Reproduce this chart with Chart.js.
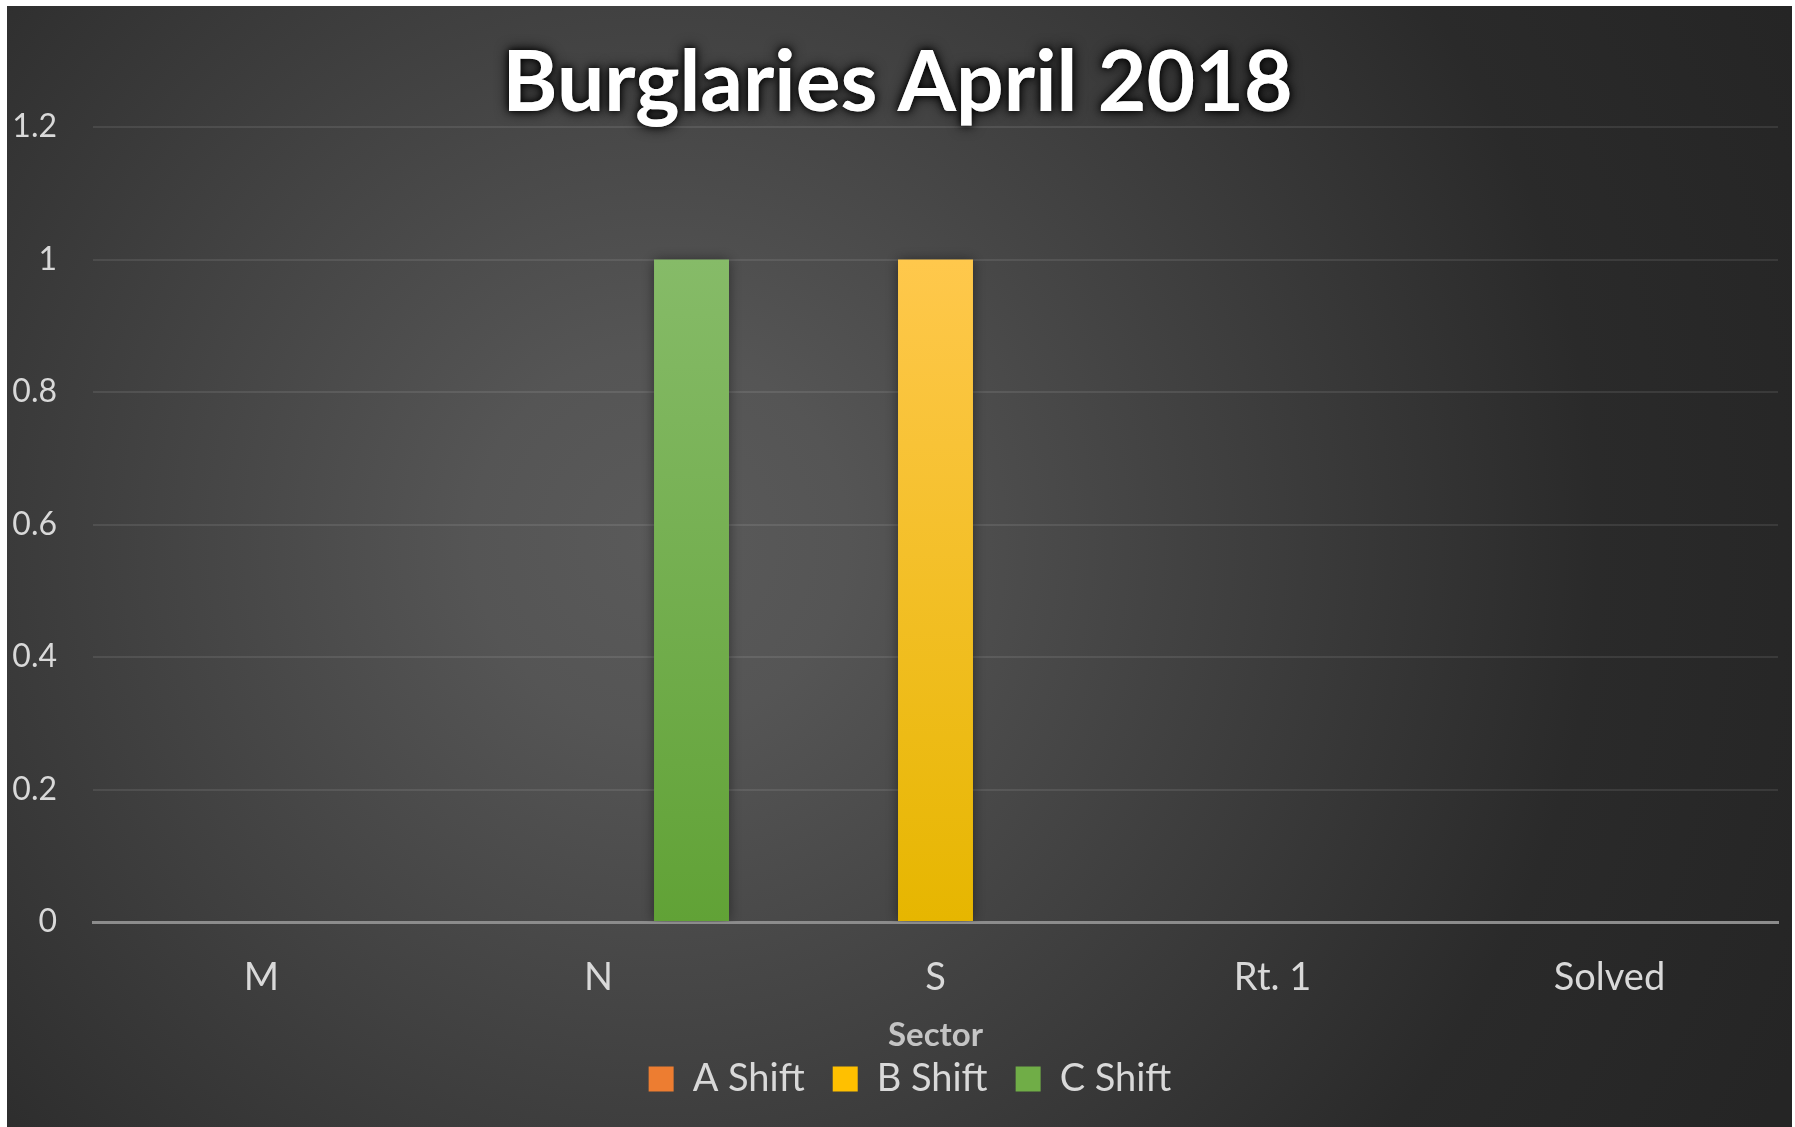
<!DOCTYPE html>
<html>
<head>
<meta charset="utf-8">
<title>Burglaries April 2018</title>
<script src="https://cdn.jsdelivr.net/npm/chart.js@4.4.1/dist/chart.umd.min.js"></script>
<style>
  html, body { margin: 0; padding: 0; background: #fff; }
  #wrap { position: absolute; left: 0; top: 0; width: 1795px; height: 1127px; }
</style>
</head>
<body>
<div id="wrap"><canvas id="chart"></canvas></div>
<script>
// data
const chartTitle = 'Burglaries April 2018';
const sectors = ['M', 'N', 'S', 'Rt. 1', 'Solved'];
const aShift = [0, 0, 0, 0, 0];
const bShift = [0, 0, 1, 0, 0];
const cShift = [0, 1, 0, 0, 0];
const yMax = 1.2;
const yStep = 0.2;

// colours (top of bar, bottom of bar, legend swatch)
const orange = ['#f3925a', '#e46c1c', '#ed7d31'];
const yellow = ['#ffc84c', '#e6b600', '#ffc000'];
const green = ['#86bb68', '#61a236', '#70ad47'];

function barFill(cols) {
  return (c) => {
    const chart = c.chart;
    if (!chart.chartArea || c.parsed == null) return cols[2];
    const y = chart.scales.y;
    const top = y.getPixelForValue(c.parsed.y);
    const bottom = y.getPixelForValue(0);
    if (bottom - top < 1) return cols[2];
    const g = chart.ctx.createLinearGradient(0, top, 0, bottom);
    g.addColorStop(0, cols[0]);
    g.addColorStop(1, cols[1]);
    return g;
  };
}

// dark radial background, title with glow, shadow under bars
const backdrop = {
  id: 'backdrop',
  afterLayout(chart) {
    // legend sits a little right of the canvas centre in the original
    if (chart.legend) {
      chart.legend.left += 21;
      chart.legend.right += 21;
    }
  },
  beforeDraw(chart) {
    const ctx = chart.ctx;
    const g = ctx.createRadialGradient(660, 540, 0, 660, 540, 1250);
    g.addColorStop(0, '#5a5a5a');
    g.addColorStop(0.15, '#555555');
    g.addColorStop(0.75, '#2a2a2a');
    g.addColorStop(1, '#252525');
    ctx.save();
    ctx.fillStyle = g;
    ctx.fillRect(7, 6, chart.width - 10, chart.height - 6);
    ctx.restore();
  },
  beforeDatasetsDraw(chart) {
    const ctx = chart.ctx;
    ctx.save();
    ctx.shadowColor = 'rgba(0,0,0,0.45)';
    ctx.shadowBlur = 12;
  },
  afterDatasetsDraw(chart) {
    chart.ctx.restore();
  },
  afterDraw(chart) {
    const ctx = chart.ctx;
    ctx.save();
    ctx.font = 'bold 84px Lato';
    ctx.textAlign = 'center';
    ctx.textBaseline = 'alphabetic';
    ctx.fillStyle = '#ffffff';
    ctx.shadowColor = 'rgba(0,0,0,0.95)';
    ctx.shadowBlur = 14;
    ctx.fillText(chartTitle, chart.width / 2, 111);
    ctx.shadowBlur = 6;
    ctx.fillText(chartTitle, chart.width / 2, 111);
    ctx.restore();
  }
};

const ctx = document.getElementById('chart').getContext('2d');
new Chart(ctx, {
  type: 'bar',
  data: {
    labels: sectors,
    datasets: [
      { label: 'A Shift', data: aShift, backgroundColor: barFill(orange) },
      { label: 'B Shift', data: bShift, backgroundColor: barFill(yellow) },
      { label: 'C Shift', data: cShift, backgroundColor: barFill(green) }
    ]
  },
  options: {
    responsive: true,
    maintainAspectRatio: false,
    animation: false,
    categoryPercentage: 0.828,
    barPercentage: 0.806,
    layout: { padding: { top: 127, right: 17, bottom: 19, left: 0 } },
    plugins: {
      title: { display: false },
      tooltip: { enabled: false },
      legend: {
        position: 'bottom',
        labels: {
          color: '#d9d9d9',
          font: { family: 'Lato', size: 38 },
          boxWidth: 25,
          boxHeight: 25,
          padding: 28,
          generateLabels(chart) {
            const cols = [orange, yellow, green];
            return Chart.defaults.plugins.legend.labels.generateLabels(chart).map((l, i) => {
              l.fillStyle = cols[i][2];
              l.strokeStyle = cols[i][2];
              l.lineWidth = 0;
              return l;
            });
          }
        }
      }
    },
    scales: {
      x: {
        grid: { display: false, drawTicks: false },
        border: { display: true, color: '#8c8c8c', width: 3 },
        ticks: { color: '#d9d9d9', font: { family: 'Lato', size: 38 }, padding: 33 },
        title: {
          display: true,
          text: 'Sector',
          color: '#c4c4c4',
          font: { family: 'Lato', size: 33, weight: 'bold' },
          padding: { top: 0, bottom: -23 }
        },
        afterFit(scale) { scale.height = 110; }
      },
      y: {
        min: 0,
        max: yMax,
        ticks: {
          stepSize: yStep,
          color: '#d9d9d9',
          font: { family: 'Lato', size: 32 },
          padding: 36,
          callback: (v) => String(Math.round(v * 10) / 10)
        },
        grid: { color: 'rgba(255,255,255,0.09)', lineWidth: 2, drawTicks: false },
        border: { display: false },
        afterFit(scale) { scale.width = 93; }
      }
    }
  },
  plugins: [backdrop]
});
</script>
</body>
</html>
